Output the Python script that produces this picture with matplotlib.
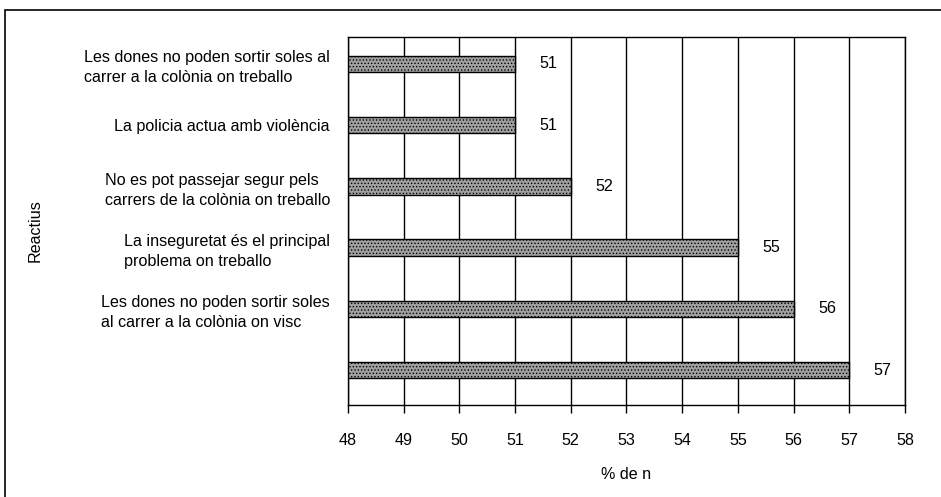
import matplotlib
matplotlib.use("Agg")
from matplotlib import pyplot as plt
from matplotlib.patches import Rectangle

plt.rcParams['font.family'] = ['Liberation Sans', 'DejaVu Sans']
plt.rcParams['hatch.color'] = '#333333'
plt.rcParams['hatch.linewidth'] = 0.6

reactius = [
    "Les dones no poden sortir soles al\ncarrer a la colònia on treballo",
    "La policia actua amb violència",
    "No es pot passejar segur pels\ncarrers de la colònia on treballo",
    "La inseguretat és el principal\nproblema on treballo",
    "Les dones no poden sortir soles\nal carrer a la colònia on visc",
    "",
]
valors = [51, 51, 52, 55, 56, 57]
ticks_x = list(range(48, 59))

fs = 11.6

fig = plt.figure(figsize=(9.41, 4.97), dpi=100)
ax = fig.add_axes([0.3698, 0.1851, 0.5919, 0.7405])

pos = list(range(len(valors)))
ax.barh(pos, [v - 48 for v in valors], left=48, height=0.27,
        color='#a0a0a0', edgecolor='black', linewidth=1.0, hatch='.....', zorder=3)

for p, v in zip(pos, valors):
    ax.text(v + 0.6, p, str(v), ha='center', va='center', fontsize=fs, zorder=4)

ax.set_xlim(48, 58)
ax.set_ylim(5.57, -0.44)
ax.set_xticks(ticks_x)
ax.set_yticks(pos)
ax.set_yticklabels(reactius, fontsize=fs, multialignment='left', linespacing=1.4)
ax.tick_params(axis='y', length=0, pad=13)
ax.tick_params(axis='x', direction='out', length=6, width=1, pad=14, labelsize=fs)
ax.grid(axis='x', color='black', linewidth=1.0, zorder=1)
for s in ax.spines.values():
    s.set_linewidth(1.0)

ax.set_xlabel("% de n", fontsize=fs, labelpad=14)
fig.text(0.037, 0.537, "Reactius", rotation=90, ha='center', va='center', fontsize=fs)

marc = Rectangle((5 / 941, -0.05), 1.2, 1 - 10 / 497 + 0.05, transform=fig.transFigure,
                 fill=False, edgecolor='black', linewidth=1.2)
fig.patches.append(marc)

fig.savefig("out.png", dpi=100)
